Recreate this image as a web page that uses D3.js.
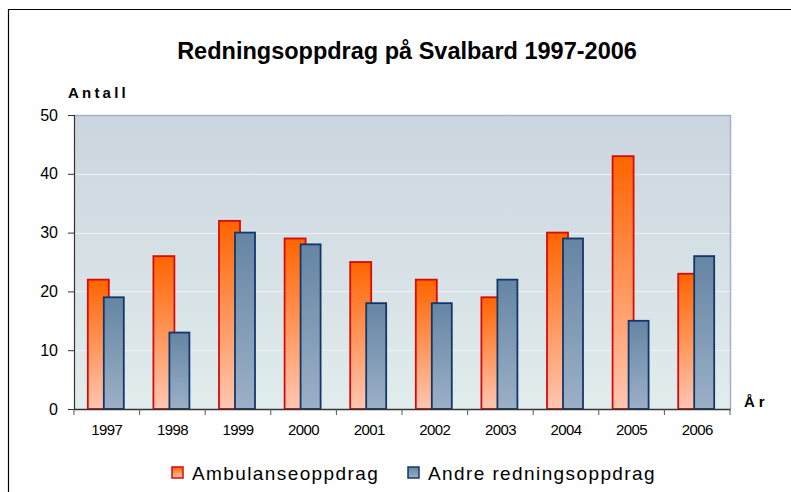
<!DOCTYPE html>
<html>
<head>
<meta charset="utf-8">
<script src="https://cdn.jsdelivr.net/npm/d3@7"></script>
<style>
  html, body { margin: 0; padding: 0; background: #fff; }
  svg { display: block; font-family: "Liberation Sans", Arial, sans-serif; }
</style>
</head>
<body>
<svg id="chart" width="791" height="492"></svg>
<script>
const years = ["1997","1998","1999","2000","2001","2002","2003","2004","2005","2006"];
const ambulanse = [22, 26, 32, 29, 25, 22, 19, 30, 43, 23];
const andre = [19, 13, 30, 28, 18, 18, 22, 29, 15, 26];
const yTicks = [0, 10, 20, 30, 40, 50];
const seriesNames = ["Ambulanseoppdrag", "Andre redningsoppdrag"];
const titleText = "Redningsoppdrag på Svalbard 1997-2006";

const svg = d3.select("#chart");
const W = 791, H = 492;
const plot = { left: 74, top: 115, right: 730, bottom: 409 };
const FONT = "'Liberation Sans', Arial, sans-serif";

const defs = svg.append("defs");
const bg = defs.append("linearGradient").attr("id", "bgGrad").attr("x1", 0).attr("y1", 0).attr("x2", 0).attr("y2", 1);
bg.append("stop").attr("offset", "0%").attr("stop-color", "#cbd5df");
bg.append("stop").attr("offset", "100%").attr("stop-color", "#e1ecec");

const gA = defs.append("linearGradient").attr("id", "gradA").attr("x1", 0).attr("y1", 0).attr("x2", 0).attr("y2", 1);
gA.append("stop").attr("offset", "0%").attr("stop-color", "#ff6400");
gA.append("stop").attr("offset", "100%").attr("stop-color", "#ffc6b2");

const gB = defs.append("linearGradient").attr("id", "gradB").attr("x1", 0).attr("y1", 0).attr("x2", 0).attr("y2", 1);
gB.append("stop").attr("offset", "0%").attr("stop-color", "#6585a3");
gB.append("stop").attr("offset", "100%").attr("stop-color", "#9cb0c7");

// outer frame (top and left lines)
svg.append("path")
  .attr("d", `M8.5,${H} L8.5,9.5 L${W},9.5`)
  .attr("fill", "none").attr("stroke", "#000").attr("stroke-width", 1.2);

const x = d3.scaleBand().domain(years).range([plot.left, plot.right]);
const y = d3.scaleLinear().domain([0, 50]).range([plot.bottom, plot.top]);

// plot background
svg.append("rect")
  .attr("x", plot.left).attr("y", plot.top)
  .attr("width", plot.right - plot.left).attr("height", plot.bottom - plot.top)
  .attr("fill", "url(#bgGrad)");

// plot border top/right
svg.append("path")
  .attr("d", `M${plot.left},${plot.top + 0.5} L${plot.right + 0.5},${plot.top + 0.5} L${plot.right + 0.5},${plot.bottom}`)
  .attr("fill", "none").attr("stroke", "#a3b2c4").attr("stroke-width", 1.5);

// gridlines
svg.append("g").selectAll("line")
  .data(yTicks.filter(d => d > 0 && d < 50))
  .join("line")
  .attr("x1", plot.left).attr("x2", plot.right)
  .attr("y1", d => Math.round(y(d)) + 0.5).attr("y2", d => Math.round(y(d)) + 0.5)
  .attr("stroke", "#eef2f4").attr("stroke-width", 1);

// bars
const bw = 21;
const groups = svg.append("g").selectAll("g")
  .data(years)
  .join("g");

groups.append("rect")
  .attr("x", (d) => x(d) + x.bandwidth() / 2 - 19)
  .attr("y", (d, i) => y(ambulanse[i]))
  .attr("width", bw)
  .attr("height", (d, i) => y(0) - y(ambulanse[i]))
  .attr("fill", "url(#gradA)")
  .attr("stroke", "#d80a0a").attr("stroke-width", 1.8);

groups.append("rect")
  .attr("x", (d) => x(d) + x.bandwidth() / 2 - 3)
  .attr("y", (d, i) => y(andre[i]))
  .attr("width", bw - 1)
  .attr("height", (d, i) => y(0) - y(andre[i]))
  .attr("fill", "url(#gradB)")
  .attr("stroke", "#12386a").attr("stroke-width", 1.8);

// y axis
const yAxis = d3.axisLeft(y).tickValues(yTicks).tickSize(6).tickPadding(10);
const ya = svg.append("g").attr("transform", `translate(${plot.left},0)`).call(yAxis);
ya.select(".domain").attr("stroke", "#333").attr("stroke-width", 1.2);
ya.selectAll(".tick line").attr("stroke", "#333");
ya.selectAll("text").attr("font-size", 16).attr("fill", "#000")
  .attr("font-family", FONT);

// x axis
const xa = svg.append("g").attr("transform", `translate(0,${plot.bottom})`)
  .call(d3.axisBottom(x).tickSize(0).tickPadding(15));
xa.select(".domain").attr("stroke", "#333").attr("stroke-width", 1.5);
xa.selectAll("text").attr("font-size", 15).attr("fill", "#000")
  .attr("font-family", FONT)
  .attr("letter-spacing", "-0.6px");
// boundary ticks
const bounds = years.map(d => x(d)).concat([plot.right]);
xa.append("g").selectAll("line").data(bounds).join("line")
  .attr("x1", d => d).attr("x2", d => d)
  .attr("y1", 0).attr("y2", 6)
  .attr("stroke", "#555").attr("stroke-width", 1);

// title
svg.append("text")
  .attr("x", 407).attr("y", 59)
  .attr("text-anchor", "middle")
  .attr("font-family", FONT)
  .attr("font-size", 23.5).attr("font-weight", "bold")
  .text(titleText);

// axis titles
svg.append("text")
  .attr("x", 68).attr("y", 98)
  .attr("font-family", FONT)
  .attr("font-size", 15).attr("font-weight", "bold")
  .attr("letter-spacing", "3.2px")
  .text("Antall");

svg.append("text")
  .attr("x", 744).attr("y", 407)
  .attr("font-family", FONT)
  .attr("font-size", 15).attr("font-weight", "bold")
  .attr("letter-spacing", "4px")
  .text("År");

// legend
const legend = svg.append("g");
const legendItems = [
  { name: seriesNames[0], fill: "url(#gradA)", stroke: "#d80a0a", x: 172 },
  { name: seriesNames[1], fill: "url(#gradB)", stroke: "#12386a", x: 408 }
];
const li = legend.selectAll("g").data(legendItems).join("g")
  .attr("transform", d => `translate(${d.x},467)`);
li.append("rect").attr("width", 11).attr("height", 11)
  .attr("fill", d => d.fill).attr("stroke", d => d.stroke).attr("stroke-width", 1.5);
li.append("text").attr("x", 20).attr("y", 13)
  .attr("font-family", FONT)
  .attr("font-size", 19).attr("letter-spacing", "1.4px")
  .text(d => d.name);
</script>
</body>
</html>
